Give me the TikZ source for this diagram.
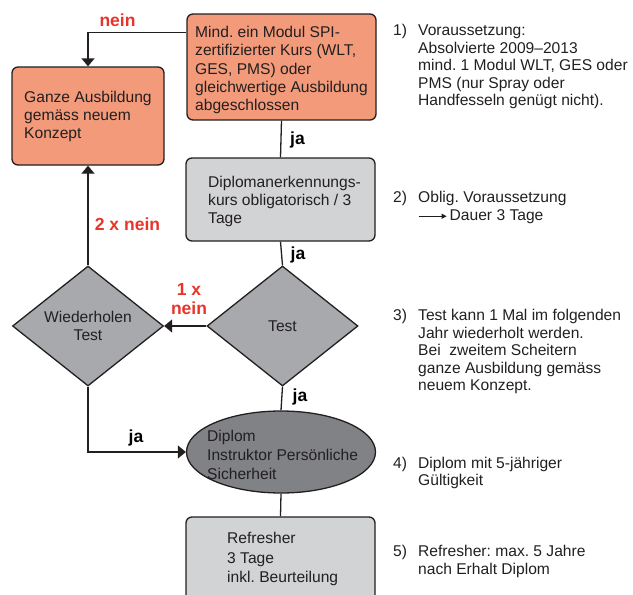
\documentclass[tikz,border=0pt]{standalone}
\usepackage{fontspec}
\setmainfont{Liberation Sans}
\usetikzlibrary{shapes.geometric,arrows.meta}
\frenchspacing
\definecolor{orangefill}{RGB}{243,154,122}
\definecolor{lightfill}{RGB}{209,211,212}
\definecolor{diafill}{RGB}{167,169,172}
\definecolor{ellfill}{RGB}{128,130,133}
\definecolor{linecol}{RGB}{35,31,32}
\definecolor{labred}{RGB}{232,52,42}
\begin{document}
\begin{tikzpicture}[x=1pt,y=-1pt,
  box/.style={draw=linecol, line width=1.3pt, rounded corners=6pt, inner sep=0pt},
  dia/.style={diamond, draw=linecol, line width=1.3pt, fill=diafill, inner sep=0pt, minimum width=151pt, minimum height=120pt, align=center, text=linecol, font=\fontsize{15.6}{18.5}\selectfont},
  txt/.style={font=\fontsize{15.6}{18.3}\selectfont, align=left, inner sep=0pt, anchor=west, text=linecol},
  note/.style={font=\fontsize{15.6}{17.5}\selectfont, inner sep=0pt, anchor=west, text=linecol},
  lbl/.style={font=\bfseries\fontsize{17.5}{19}\selectfont, inner sep=0pt, align=center},
  conn/.style={draw=linecol, line width=1.3pt},
  arr/.style={-{Triangle[length=8pt,width=13pt]}}]
\useasboundingbox (0,0) rectangle (633,595);

% shapes
\node[box, fill=orangefill, minimum width=189pt, minimum height=106pt] (req) at (281.5,67) {};
\node[box, fill=orangefill, minimum width=152pt, minimum height=98pt] (ganze) at (88,116) {};
\node[box, fill=lightfill, minimum width=189pt, minimum height=83pt] (kurs) at (280.5,199.5) {};
\node[dia] (test) at (282.5,326) {Test};
\node[dia] (wdh) at (88,326) {Wiederholen\\Test};
\node[ellipse, draw=linecol, line width=1.3pt, fill=ellfill, minimum width=189pt, minimum height=82pt, inner sep=0pt] (dipl) at (281,452) {};
\node[box, fill=lightfill, minimum width=189pt, minimum height=92pt] (refr) at (280.5,563) {};

% texts inside shapes
\node[txt] (reqtxt) at (195,70) {Mind. ein Modul SPI-\\zertifizierter Kurs (WLT,\\GES, PMS) oder\\gleichwertige Ausbildung\\abgeschlossen};
\node[txt, font=\fontsize{15.6}{18}\selectfont] (ganzetxt) at (24,116.5) {Ganze Ausbildung\\gemäss neuem\\Konzept};
\node[txt, font=\fontsize{15.6}{18}\selectfont] (kurstxt) at (208,201.5) {Diplomanerkennungs-\\kurs obligatorisch / 3\\Tage};
\node[txt, font=\fontsize{15.6}{19}\selectfont] (dipltxt) at (207,454.5) {Diplom\\Instruktor Persönliche\\Sicherheit};
\node[txt, font=\fontsize{15.6}{19.5}\selectfont] (refrtxt) at (227,559) {Refresher\\3 Tage\\inkl. Beurteilung};

% connectors
\draw[conn,arr] (req.north west) ++(0,19) -| (ganze.north);
\draw[conn] (req.south) -- (kurs.north);
\draw[conn] (kurs.south) -- (test.north);
\draw[conn,arr] (test.west) -- (wdh.east);
\draw[conn,arr] (wdh.north) -- (ganze.south);
\draw[conn] (test.south) -- (dipl.north);
\draw[conn,arr] (wdh.south) |- (dipl.west);
\draw[conn] (dipl.south) -- (refr.north);

% labels
\node[lbl, text=labred] (l1) at (117.5,20) {nein};
\node[lbl] (l2) at (297.5,140) {ja};
\node[lbl] (l3) at (298,255) {ja};
\node[lbl, text=labred] (l4) at (127.5,224) {2 x nein};
\node[lbl, text=labred, font=\bfseries\fontsize{17.5}{19.5}\selectfont] (l5) at (189,299) {1 x\\nein};
\node[lbl] (l6) at (300,397) {ja};
\node[lbl] (l7) at (136,438) {ja};

% notes
\node[note] (n1) at (393,67) {\begin{tabular}{@{}p{25pt}@{}l@{}}1) & Voraussetzung:\\ & Absolvierte 2009–2013\\ & mind. 1 Modul WLT, GES oder\\ & PMS (nur Spray oder\\ & Handfesseln genügt nicht).\end{tabular}};
\node[note] (n2) at (393,208) {\begin{tabular}{@{}p{25pt}@{}l@{}}2) & Oblig. Voraussetzung\\ & \tikz[baseline=-4pt]\draw[line width=0.9pt,-{Triangle[length=5pt,width=5pt]}] (0pt,0pt) -- (28pt,0pt);\,Dauer 3 Tage\end{tabular}};
\node[note] (n3) at (393,352) {\begin{tabular}{@{}p{25pt}@{}l@{}}3) & Test kann 1 Mal im folgenden\\ & Jahr wiederholt werden.\\ & Bei \ zweitem Scheitern\\ & ganze Ausbildung gemäss\\ & neuem Konzept.\end{tabular}};
\node[note] (n4) at (393,473.5) {\begin{tabular}{@{}p{25pt}@{}l@{}}4) & Diplom mit 5-jähriger\\ & Gültigkeit\end{tabular}};
\node[note] (n5) at (393,562) {\begin{tabular}{@{}p{25pt}@{}l@{}}5) & Refresher: max. 5 Jahre\\ & nach Erhalt Diplom\end{tabular}};
\end{tikzpicture}
\end{document}
